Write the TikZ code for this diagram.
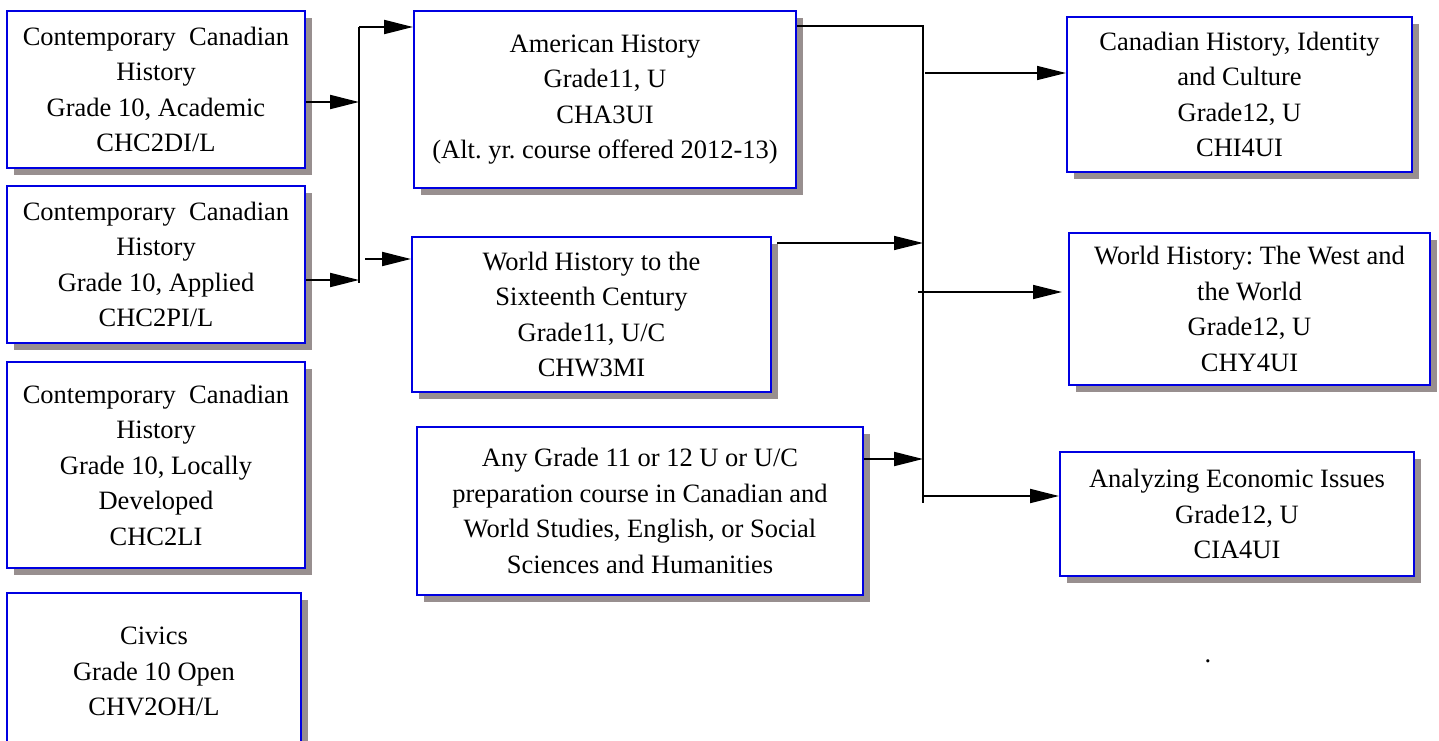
\documentclass[tikz,border=0pt]{standalone}
\usepackage{fontspec}
\setmainfont{Liberation Serif}
\usetikzlibrary{arrows.meta,shadows}
\definecolor{boxblue}{RGB}{0,0,225}
\definecolor{shadowgray}{RGB}{152,143,143}
\tikzset{
  course/.style={draw=boxblue, line width=2pt, fill=white, inner sep=0pt,
    align=center, font=\fontsize{26.5}{35.5}\selectfont\frenchspacing,
    drop shadow={shadow xshift=7pt, shadow yshift=-7pt, fill=shadowgray, opacity=1}},
  conn/.style={line width=2pt, black},
  thin conn/.style={line width=1.6pt, black},
  arr/.style={conn, -{Triangle[length=29pt, width=14pt]}},
  thin arr/.style={thin conn, -{Triangle[length=29pt, width=14pt]}}
}
\begin{document}
\begin{tikzpicture}[x=1pt, y=-1pt]
\useasboundingbox (0,0) rectangle (1439,740);
\clip (0,0) rectangle (1439,740);

% Grade 10 courses
\node[course, minimum width=298pt, minimum height=157pt] (L1) at (156,89.5)
  {Contemporary\ \ Canadian\\History\\Grade 10, Academic\\CHC2DI/L};
\node[course, minimum width=298pt, minimum height=157pt] (L2) at (156,264.5)
  {Contemporary\ \ Canadian\\History\\Grade 10, Applied\\CHC2PI/L};
\node[course, minimum width=298pt, minimum height=206pt] (L3) at (156,465)
  {Contemporary\ \ Canadian\\History\\Grade 10, Locally\\Developed\\CHC2LI};
\node[course, minimum width=294pt, minimum height=157pt] (L4) at (154,671.5)
  {Civics\\Grade 10 Open\\CHV2OH/L};

% Grade 11 courses
\node[course, minimum width=382pt, minimum height=177pt] (AH) at (605,99.5)
  {American History\\Grade11, U\\CHA3UI\\(Alt. yr. course offered 2012-13)};
\node[course, minimum width=359pt, minimum height=155pt] (WH) at (591.5,314.5)
  {World History to the\\Sixteenth Century\\Grade11, U/C\\CHW3MI};
\node[course, minimum width=446pt, minimum height=168pt] (ANY) at (640,511)
  {Any Grade 11 or 12 U or U/C\\preparation course in Canadian and\\World Studies, English, or Social\\Sciences and Humanities};

% Grade 12 courses
\node[course, minimum width=345pt, minimum height=155pt] (CAN) at (1239.5,94.5)
  {Canadian History, Identity\\and Culture\\Grade12, U\\CHI4UI};
\node[course, minimum width=361pt, minimum height=152pt] (WW) at (1249.5,309)
  {World History: The West and\\the World\\Grade12, U\\CHY4UI};
\node[course, minimum width=354pt, minimum height=124pt] (AEI) at (1237,514)
  {Analyzing Economic Issues\\Grade12, U\\CIA4UI};

\node[font=\fontsize{26.5}{35.5}\selectfont, inner sep=0pt] (dot) at (1208,661) {.};

% left junction
\coordinate (lt) at (359,27);
\coordinate (lb) at (359,283);
\draw[conn] (lt) -- (lb);
\draw[arr] (L1.east |- 0,102) -- (lt |- 0,102);
\draw[arr] (L2.east |- 0,280) -- (lt |- 0,280);
\draw[arr] (lt) -- (AH.west |- lt);
\coordinate (ls) at (365,259);
\draw[arr] (ls) -- (WH.west |- ls);

% right junction
\coordinate (rt) at (923,26);
\coordinate (rb) at (923,503);
\draw[thin conn] (AH.east |- rt) -- (rt) -- (rb);
\coordinate (w1) at (777,243);
\draw[thin arr] (w1) -- (rt |- w1);
\draw[arr] (ANY.east |- 0,459) -- (rt |- 0,459);
\coordinate (o1) at (925,73);
\draw[thin arr] (o1) -- (CAN.west |- o1);
\coordinate (o2) at (918,292);
\draw[thin arr] (o2) -- (1062,292);
\coordinate (o3) at (923,496);
\draw[arr] (o3) -- (AEI.west |- o3);
\end{tikzpicture}
\end{document}
